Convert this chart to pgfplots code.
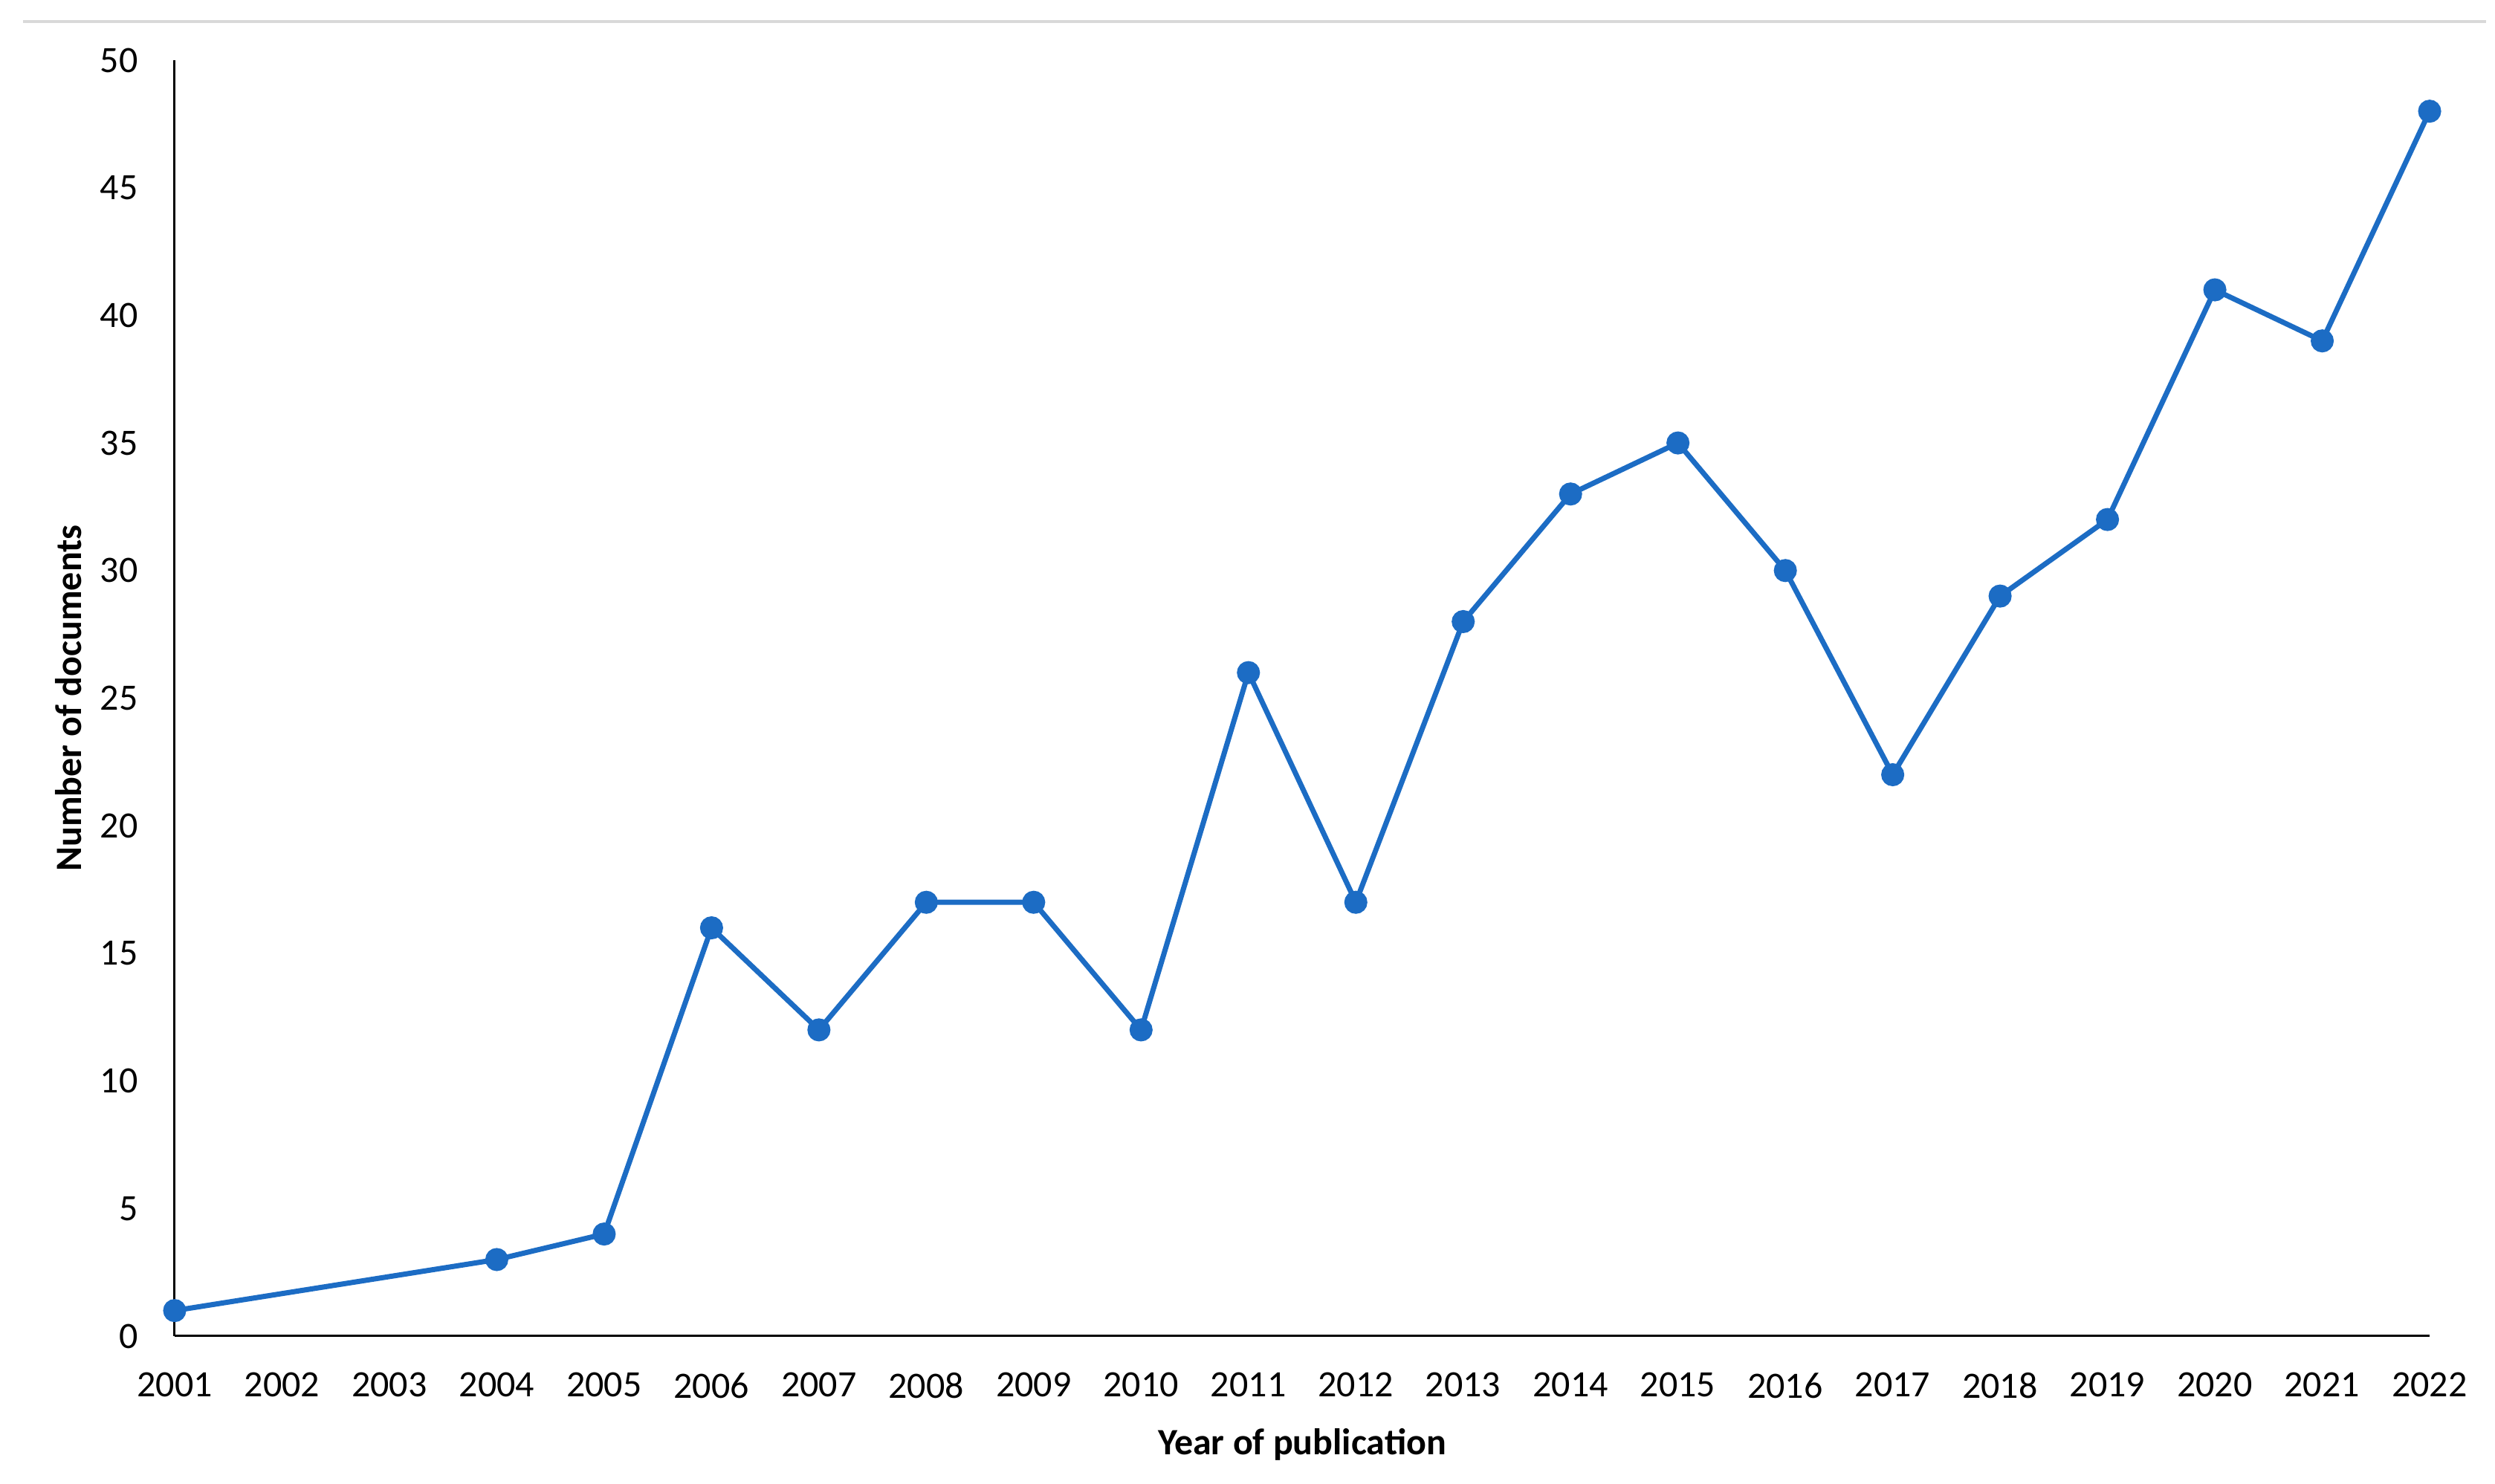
\documentclass[border=0pt]{standalone}
\usepackage{pgfplots}
\pgfplotsset{compat=1.18}
\usepackage{fontspec}
\setmainfont{Carlito}
\definecolor{lineblue}{RGB}{28,108,196}
\definecolor{topgray}{RGB}{217,217,217}
\begin{document}
\fontsize{12.5}{15}\selectfont
\begin{tikzpicture}
\useasboundingbox (-58.75pt,-49.75pt) rectangle (780.5pt,449.5pt);
\draw[topgray, line width=0.8pt] (-51pt,442.25pt) -- (777.5pt,442.25pt);
\begin{axis}[
  at={(0,0)}, anchor=south west,
  scale only axis,
  width=758.5pt, height=429.25pt,
  xmin=2001, xmax=2022, ymin=0, ymax=50,
  enlargelimits=false,
  axis x line=bottom, axis y line=left,
  axis line style={-, black, line width=0.75pt},
  xtick={2001,...,2022},
  ytick={0,5,...,50},
  major tick length=0pt,
  /pgf/number format/assume math mode=true,
  xticklabel style={/pgf/number format/1000 sep=, yshift=-8pt, font=\fontsize{12.5}{15}\selectfont},
  yticklabel style={xshift=-8pt, font=\fontsize{12.5}{15}\selectfont},
  xlabel={Year of publication},
  ylabel={Number of documents},
  every axis x label/.style={at={(axis description cs:0.5,0)}, anchor=center, yshift=-36.5pt, font=\fontsize{12.5}{15}\selectfont\bfseries},
  every axis y label/.style={at={(axis description cs:0,0.5)}, anchor=center, rotate=90, yshift=35.75pt, font=\fontsize{12.5}{15}\selectfont\bfseries},
  clip=false,
]
\addplot[lineblue, line width=1.75pt, mark=*, mark size=3pt, mark options={fill=lineblue, draw=lineblue}]
coordinates {
(2001,1) (2004,3) (2005,4) (2006,16) (2007,12) (2008,17) (2009,17) (2010,12)
(2011,26) (2012,17) (2013,28) (2014,33) (2015,35) (2016,30) (2017,22) (2018,29)
(2019,32) (2020,41) (2021,39) (2022,48)
};
\end{axis}
\end{tikzpicture}
\end{document}
